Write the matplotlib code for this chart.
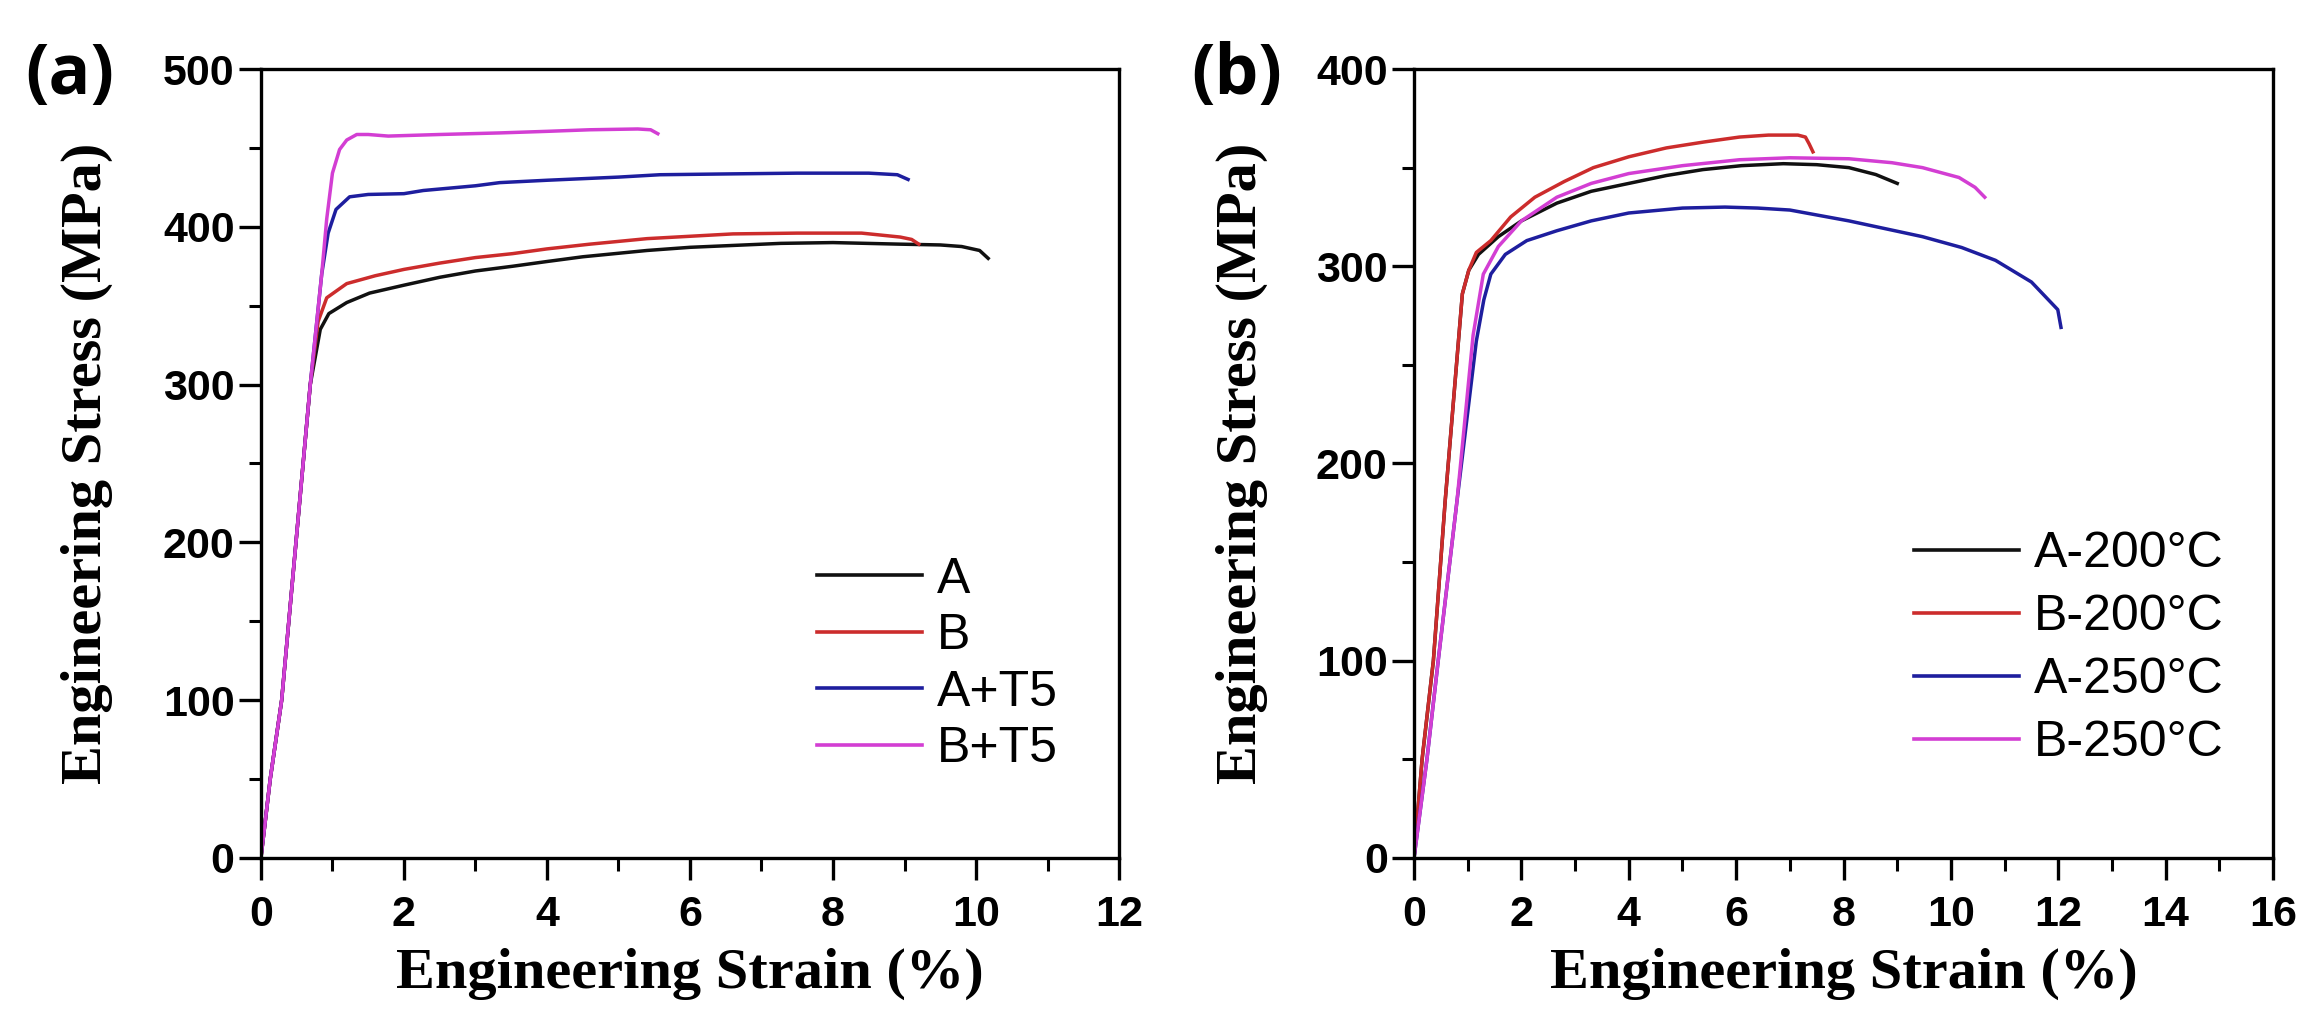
import matplotlib
matplotlib.use("Agg")
import matplotlib.pyplot as plt
from matplotlib.ticker import MultipleLocator
from matplotlib.font_manager import FontProperties

# ---------------------------------------------------------------------------
# Panel (a): room-temperature tensile curves (strain %, stress MPa)
# ---------------------------------------------------------------------------
a_A_strain = [0, 0.13, 0.29, 0.49, 0.69, 0.83, 0.95, 1.2, 1.52, 2.0, 2.5, 3.0, 3.52,
              4.0, 4.5, 5.4, 6.0, 7.27, 8.0, 8.94, 9.5, 9.8, 10.05, 10.17]
a_A_stress = [0, 50, 100, 200, 300, 335, 345, 352, 358, 363, 368, 372, 375,
              378, 381, 385, 387, 389.5, 390, 389, 388.5, 387.5, 385, 380]

a_B_strain = [0, 0.13, 0.29, 0.49, 0.69, 0.8, 0.92, 1.2, 1.6, 2.0, 2.5, 3.0, 3.52,
              4.0, 4.6, 5.4, 6.0, 6.6, 7.5, 8.4, 8.94, 9.1, 9.2]
a_B_stress = [0, 50, 100, 200, 300, 340, 355, 364, 369, 373, 377, 380.5, 383,
              386, 389, 392.5, 394, 395.5, 396, 396, 393.5, 392, 389]

a_AT5_strain = [0, 0.13, 0.29, 0.49, 0.69, 0.85, 0.94, 1.05, 1.24, 1.5, 2.0, 2.27,
                3.0, 3.34, 4.0, 5.0, 5.58, 6.5, 7.5, 8.5, 8.9, 9.05]
a_AT5_stress = [0, 50, 100, 200, 300, 370, 396, 411, 419, 420.5, 421, 423,
                426, 428, 429.5, 431.5, 433, 433.5, 434, 434, 433, 430]

a_BT5_strain = [0, 0.13, 0.29, 0.49, 0.69, 0.85, 0.92, 1.0, 1.1, 1.2, 1.34, 1.5,
                1.78, 2.5, 3.34, 4.0, 4.6, 5.27, 5.45, 5.55]
a_BT5_stress = [0, 50, 100, 200, 300, 370, 405, 434, 449, 455, 458.5, 458.5,
                457.5, 458.5, 459.5, 460.5, 461.5, 462, 461.5, 459]

# ---------------------------------------------------------------------------
# Panel (b): elevated-temperature tensile curves
# ---------------------------------------------------------------------------
b_A200_strain = [0, 0.15, 0.36, 0.58, 0.9, 1.02, 1.2, 1.57, 2.0, 2.66, 3.3, 4.0,
                 4.7, 5.38, 6.1, 6.88, 7.5, 8.1, 8.6, 9.0]
b_A200_stress = [0, 50, 100, 181, 286, 298, 306, 315, 323, 332, 338, 342,
                 346, 349, 351, 352, 351.5, 350, 346.5, 342]

b_B200_strain = [0, 0.15, 0.36, 0.58, 0.9, 1.02, 1.16, 1.43, 1.8, 2.25, 2.8, 3.34,
                 4.0, 4.7, 5.4, 6.06, 6.6, 6.88, 7.15, 7.29, 7.36, 7.43]
b_B200_stress = [0, 50, 100, 181, 286, 298, 307, 313, 325, 335, 343, 350,
                 355.5, 360, 363, 365.5, 366.5, 366.5, 366.5, 365.5, 362, 358]

b_A250_strain = [0, 0.24, 0.45, 0.8, 1.16, 1.3, 1.43, 1.7, 2.1, 2.66, 3.3, 4.0,
                 5.0, 5.79, 6.4, 7.0, 8.1, 9.47, 10.2, 10.83, 11.5, 11.99, 12.05]
b_A250_stress = [0, 50, 100, 181, 262, 283, 296, 306, 313, 318, 323, 327,
                 329.5, 330, 329.5, 328.5, 323, 315, 309.5, 303, 292, 278, 269]

b_B250_strain = [0, 0.24, 0.45, 0.8, 1.1, 1.29, 1.57, 2.0, 2.66, 3.3, 4.0, 5.0,
                 6.06, 7.0, 8.1, 8.9, 9.47, 10.15, 10.45, 10.63]
b_B250_stress = [0, 50, 100, 181, 265, 296, 310, 323, 335, 342, 347, 351,
                 354, 355, 354.5, 352.5, 350, 345, 340, 335]

labels_a = ["A", "B", "A+T5", "B+T5"]
labels_b = ["A-200°C", "B-200°C", "A-250°C", "B-250°C"]
colors = ["#111111", "#cc2c2c", "#1e1e9e", "#d33ed3"]

TICK_FONT = FontProperties(family="Liberation Sans", weight="bold", size=31)
LABEL_FONT = {"family": "Liberation Serif", "weight": "bold", "size": 42}

fig = plt.figure(figsize=(23.03, 10.09), dpi=100)
ax_a = fig.add_axes([0.1133, 0.1497, 0.3726, 0.7819])
ax_b = fig.add_axes([0.6140, 0.1497, 0.3730, 0.7819])


def style_axes(ax, xmax, ymax, xlab_coords, ylab_coords):
    ax.set_xlim(0, xmax)
    ax.set_ylim(0, ymax)
    ax.xaxis.set_major_locator(MultipleLocator(2))
    ax.xaxis.set_minor_locator(MultipleLocator(1))
    ax.yaxis.set_major_locator(MultipleLocator(100))
    ax.yaxis.set_minor_locator(MultipleLocator(50))
    ax.tick_params(which="major", direction="out", length=16, width=2.4)
    ax.tick_params(axis="x", which="major", pad=11)
    ax.tick_params(axis="y", which="major", pad=3)
    ax.tick_params(which="minor", direction="out", length=9, width=2.2)
    for sp in ax.spines.values():
        sp.set_linewidth(2.4)
    for lab in ax.get_xticklabels() + ax.get_yticklabels():
        lab.set_fontproperties(TICK_FONT)
    ax.set_xlabel("Engineering Strain (%)", fontdict=LABEL_FONT)
    ax.set_ylabel("Engineering Stress (MPa)", fontdict=LABEL_FONT)
    ax.xaxis.set_label_coords(*xlab_coords)
    ax.yaxis.set_label_coords(*ylab_coords)


series_a = [(a_A_strain, a_A_stress), (a_B_strain, a_B_stress),
            (a_AT5_strain, a_AT5_stress), (a_BT5_strain, a_BT5_stress)]
for (x, y), lab, c in zip(series_a, labels_a, colors):
    ax_a.plot(x, y, color=c, lw=2.5, label=lab)

series_b = [(b_A200_strain, b_A200_stress), (b_B200_strain, b_B200_stress),
            (b_A250_strain, b_A250_stress), (b_B250_strain, b_B250_stress)]
for (x, y), lab, c in zip(series_b, labels_b, colors):
    ax_b.plot(x, y, color=c, lw=2.5, label=lab)

style_axes(ax_a, 12, 500, (0.5, -0.114), (-0.172, 0.5))
style_axes(ax_b, 16, 400, (0.5, -0.114), (-0.170, 0.5))

leg_kw = dict(frameon=False, loc="upper left", borderaxespad=0, borderpad=0,
              handlelength=2.1, handletextpad=0.3,
              prop={"family": "Liberation Sans", "size": 36})
leg_a = ax_a.legend(bbox_to_anchor=(0.648, 0.382), labelspacing=0.21, **leg_kw)
leg_b = ax_b.legend(bbox_to_anchor=(0.582, 0.414), labelspacing=0.34, **leg_kw)
for leg in (leg_a, leg_b):
    for ln in leg.get_lines():
        ln.set_linewidth(2.6)

fig.text(0.0305, 0.925, "(a)", fontsize=50, fontweight="bold",
         family="Open Sans", ha="center", va="center")
fig.text(0.537, 0.925, "(b)", fontsize=50, fontweight="bold",
         family="Open Sans", ha="center", va="center")

fig.savefig("out.png", dpi=100)
